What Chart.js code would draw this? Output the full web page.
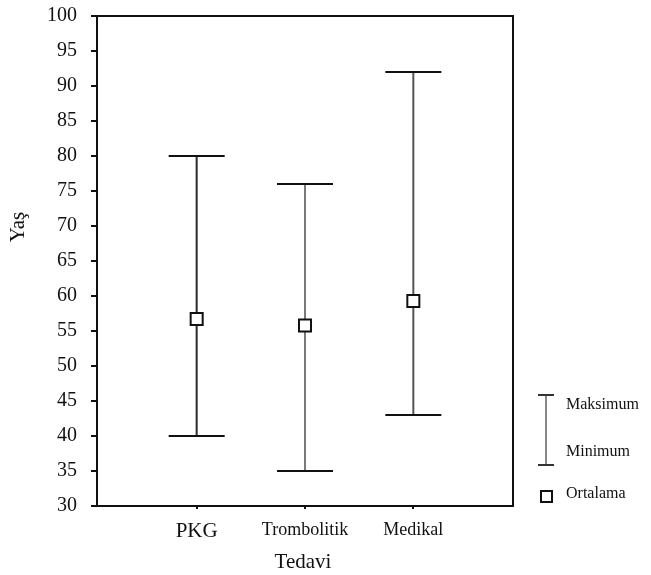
<!DOCTYPE html>
<html>
<head>
<meta charset="utf-8">
<script src="https://cdn.jsdelivr.net/npm/chart.js@4/dist/chart.umd.min.js"></script>
<style>
  body { margin: 0; background: #fff; }
  #wrap { width: 651px; height: 575px; }
</style>
</head>
<body>
<div id="wrap"><canvas id="chart"></canvas></div>
<script>
// Yaş dağılımı - tedavi grubuna göre
const categories = ['PKG', 'Trombolitik', 'Medikal'];
const minValues = [40, 35, 43];
const maxValues = [80, 76, 92];
const meanValues = [56.7, 55.8, 59.3];
const yTicks = [30, 35, 40, 45, 50, 55, 60, 65, 70, 75, 80, 85, 90, 95, 100];

const serif = '"Liberation Serif", "Times New Roman", serif';
const barColors = ['#2a2a2a', '#7a7a7a', '#555555'];

const rangeSets = categories.map((c, i) => ({
    type: 'line',
    label: c,
    data: [{ x: i + 1, y: minValues[i] }, { x: i + 1, y: maxValues[i] }],
    borderColor: barColors[i],
    borderWidth: 2,
    pointStyle: 'line',
    pointRadius: 28,
    pointBorderColor: '#111',
    pointBorderWidth: 2,
    fill: false
}));

const meanSet = {
    type: 'scatter',
    label: 'Ortalama',
    data: meanValues.map((m, i) => ({ x: i + 1, y: m })),
    pointStyle: 'rect',
    pointRadius: 8.5,
    pointBackgroundColor: '#fff',
    pointBorderColor: '#111',
    pointBorderWidth: 2
};

// frame, axis titles and legend
const decorations = {
    id: 'decorations',
    afterDraw(chart) {
        const { ctx, chartArea: a } = chart;
        ctx.save();
        ctx.strokeStyle = '#111';
        ctx.lineWidth = 2;
        ctx.beginPath();
        ctx.moveTo(a.left, a.top);
        ctx.lineTo(a.right, a.top);
        ctx.lineTo(a.right, a.bottom);
        ctx.stroke();

        ctx.fillStyle = '#111';
        ctx.textAlign = 'center';
        ctx.textBaseline = 'middle';
        ctx.font = '21px ' + serif;
        ctx.fillText('Tedavi', 303, 562);

        ctx.save();
        ctx.translate(18, 227);
        ctx.rotate(-Math.PI / 2);
        ctx.fillText('Yaş', 0, 0);
        ctx.restore();

        // legend
        ctx.strokeStyle = '#888';
        ctx.beginPath();
        ctx.moveTo(546, 395);
        ctx.lineTo(546, 465);
        ctx.stroke();
        ctx.strokeStyle = '#333';
        ctx.beginPath();
        ctx.moveTo(538, 395); ctx.lineTo(554, 395);
        ctx.moveTo(538, 465); ctx.lineTo(554, 465);
        ctx.stroke();
        ctx.strokeStyle = '#111';
        ctx.strokeRect(541, 491, 11, 11);

        ctx.textAlign = 'left';
        ctx.font = '16px ' + serif;
        ctx.fillText('Maksimum', 566, 405);
        ctx.fillText('Minimum', 566, 452);
        ctx.fillText('Ortalama', 566, 494);
        ctx.restore();
    }
};

new Chart(document.getElementById('chart'), {
    data: { datasets: [meanSet, ...rangeSets] },
    options: {
        responsive: true,
        maintainAspectRatio: false,
        animation: false,
        layout: { autoPadding: false, padding: { left: 0, top: 16, right: 138, bottom: 0 } },
        plugins: {
            legend: { display: false },
            tooltip: { enabled: false }
        },
        scales: {
            x: {
                type: 'linear',
                min: 0.08,
                max: 3.92,
                afterBuildTicks: s => { s.ticks = categories.map((c, i) => ({ value: i + 1 })); },
                afterFit: s => { s.height = 69; s.paddingLeft = 0; s.paddingRight = 0; },
                border: { display: true, color: '#111', width: 2 },
                grid: { drawOnChartArea: false, tickLength: 3, color: '#111', lineWidth: 2 },
                ticks: {
                    padding: 10,
                    color: '#111',
                    autoSkip: false,
                    maxRotation: 0,
                    font: ctx => ({ family: serif, size: ctx.index === 0 ? 21 : 18 }),
                    callback: v => categories[v - 1]
                }
            },
            y: {
                min: 30,
                max: 100,
                afterBuildTicks: s => { s.ticks = yTicks.map(v => ({ value: v })); },
                afterFit: s => { s.width = 97; s.paddingTop = 0; s.paddingBottom = 0; },
                border: { display: true, color: '#111', width: 2 },
                grid: { drawOnChartArea: false, tickLength: 6, color: '#111', lineWidth: 2 },
                ticks: {
                    padding: 14,
                    color: '#111',
                    font: { family: serif, size: 20 }
                }
            }
        }
    },
    plugins: [decorations]
});
</script>
</body>
</html>
